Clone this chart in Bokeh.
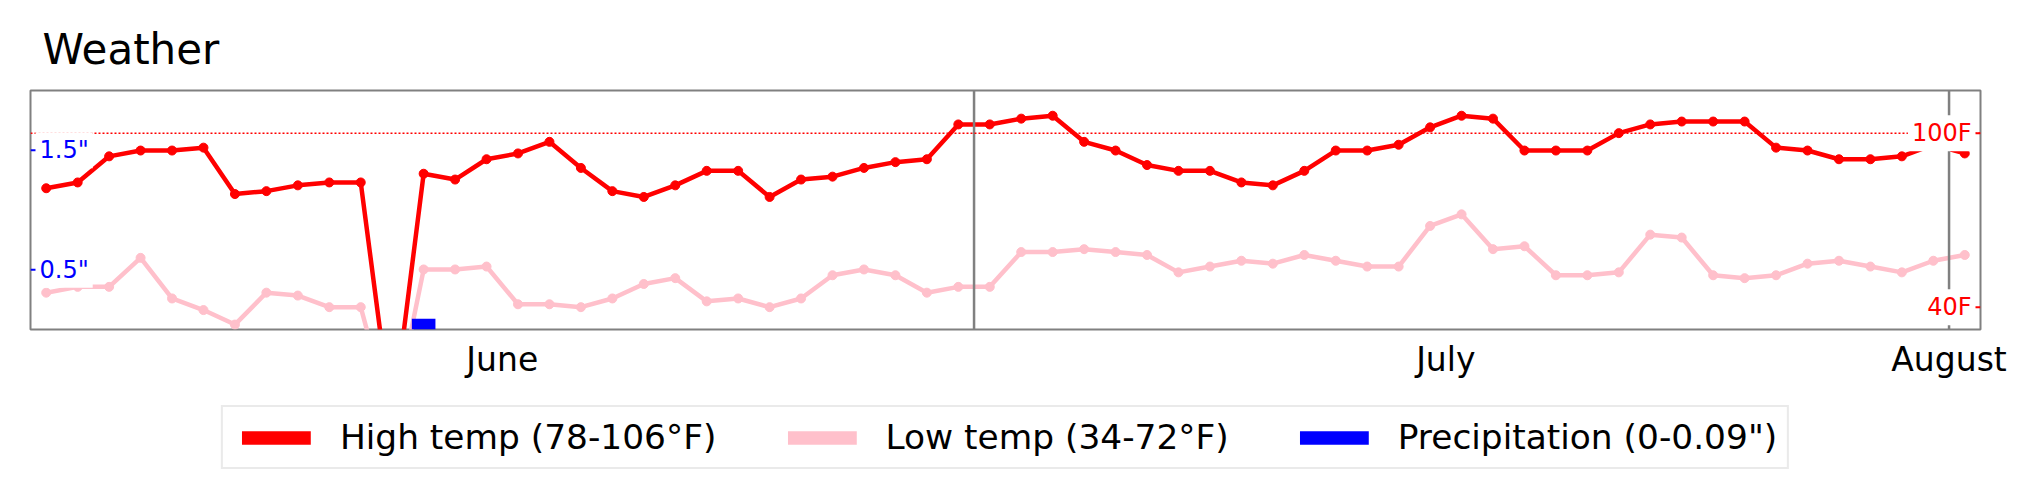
import pandas as pd
from bokeh.plotting import figure
from bokeh.layouts import column
from bokeh.models import Range1d, Span, Label, Legend, LegendItem, FixedTicker
from bokeh.embed import file_html
from bokeh.resources import INLINE

FONT = "DejaVu Sans"

# one reading per day, June 1 .. August 1
days = pd.date_range("2023-06-01 12:00", periods=62, freq="D")

high = [81, 83, 92, 94, 94, 95, 79, 80, 82, 83, 83, 0, 86, 84, 91, 93, 97, 88, 80, 78,
        82, 87, 87, 78, 84, 85, 88, 90, 91, 103, 103, 105, 106, 97, 94, 89, 87, 87, 83, 82,
        87, 94, 94, 96, 102, 106, 105, 94, 94, 94, 100, 103, 104, 104, 104, 95, 94, 91, 91, 92,
        96, 93]
low = [45, 47, 47, 57, 43, 39, 34, 45, 44, 40, 40, 0, 53, 53, 54, 41, 41, 40, 43, 48,
       50, 42, 43, 40, 43, 51, 53, 51, 45, 47, 47, 59, 59, 60, 59, 58, 52, 54, 56, 55,
       58, 56, 54, 54, 68, 72, 60, 61, 51, 51, 52, 65, 64, 51, 50, 51, 55, 56, 54, 52,
       56, 58]
precip = [0, 0, 0, 0, 0, 0, 0, 0, 0, 0, 0, 0, 0.09, 0, 0, 0, 0, 0, 0, 0,
          0, 0, 0, 0, 0, 0, 0, 0, 0, 0, 0, 0, 0, 0, 0, 0, 0, 0, 0, 0,
          0, 0, 0, 0, 0, 0, 0, 0, 0, 0, 0, 0, 0, 0, 0, 0, 0, 0, 0, 0,
          0, 0]

month_ticks = ["2023-06-16", "2023-07-16", "2023-08-01"]
month_labels = ["June", "July", "August"]
month_starts = ["2023-07-01", "2023-08-01"]
temp_marks = [40, 100]
temp_labels = ["40F", "100F"]
rain_marks = [0.5, 1.5]
rain_labels = ['0.5"', '1.5"']
legend_labels = ["High temp (78-106\u00b0F)", "Low temp (34-72\u00b0F)", 'Precipitation (0-0.09")']
legend_colors = ["red", "pink", "blue"]


def ms(s):
    return pd.Timestamp(s).value / 1e6


x_left = ms("2023-06-01")
x_right = ms("2023-08-02")
bar_w = 0.75 * 86400000

p = figure(frame_width=1950, frame_height=239, x_axis_type="datetime",
           x_range=Range1d(x_left, x_right), y_range=Range1d(32.3, 114.7),
           y_axis_location=None, output_backend="svg", toolbar_location=None,
           min_border_left=30, min_border_right=56, min_border_top=90, min_border_bottom=50)
p.extra_y_ranges = {"rain": Range1d(0, 2)}
p.grid.grid_line_color = None
p.outline_line_color = "gray"
p.outline_line_width = 2

p.title.text = "Weather"
p.title.text_font = FONT
p.title.text_font_size = "42px"
p.title.text_font_style = "normal"
p.title.text_color = "black"
p.title.align = "left"
p.title.offset = 12
p.title.standoff = 34

ax = p.xaxis[0]
ax.ticker = FixedTicker(ticks=[ms(t) for t in month_ticks])
ax.major_label_overrides = {ms(t): lab for t, lab in zip(month_ticks, month_labels)}
ax.axis_line_color = None
ax.major_tick_line_color = None
ax.minor_tick_line_color = None
ax.major_label_text_font = FONT
ax.major_label_text_font_size = "33px"
ax.major_label_text_color = "black"
ax.major_label_standoff = 4

p.line(days, low, color="pink", line_width=4.5)
p.scatter(days, low, size=9, color="pink")
p.line(days, high, color="red", line_width=4.5)
p.scatter(days, high, size=9, color="red")
p.vbar(x=days, top=precip, width=bar_w, y_range_name="rain", fill_color="blue", line_color=None)

for m in month_starts:
    p.add_layout(Span(location=ms(m), dimension="height", line_color="gray", line_width=2.5))
p.add_layout(Span(location=100, dimension="width", line_color="red", line_width=1.5,
                  line_dash="2 2"))

p.ray(x=[x_left] * 2, y=rain_marks, length=8, length_units="screen", angle=0,
      color="blue", line_width=2, y_range_name="rain")
p.ray(x=[x_right] * 2, y=temp_marks, length=8, length_units="screen", angle=3.14159265,
      color="red", line_width=2)
for v, t in zip(rain_marks, rain_labels):
    p.add_layout(Label(x=x_left, y=v, y_range_name="rain", x_offset=5, text=t,
                       text_align="left", text_baseline="middle", text_color="blue",
                       text_font=FONT, text_font_size="24px",
                       background_fill_color="white", padding=4))
for v, t in zip(temp_marks, temp_labels):
    p.add_layout(Label(x=x_right, y=v, x_offset=-5, text=t,
                       text_align="right", text_baseline="middle", text_color="red",
                       text_font=FONT, text_font_size="24px",
                       background_fill_color="white", padding=4))

# legend strip below the chart; flat bars on the same series serve as swatches
k = figure(frame_width=2010, frame_height=112, x_range=p.x_range, y_range=Range1d(0, 1),
           x_axis_location=None, y_axis_location=None, output_backend="svg",
           toolbar_location=None, min_border=0, outline_line_color=None)
k.grid.grid_line_color = None
keys = [k.vbar(x=days, bottom=[-1] * 62, top=[-1] * 62, width=bar_w, fill_color=c, line_color=None)
        for c in legend_colors]
items = [LegendItem(label=lab, renderers=[r]) for lab, r in zip(legend_labels, keys)]
legend = Legend(items=items, orientation="horizontal", location="center",
                label_text_font=FONT, label_text_font_size="34.4px", label_text_color="black",
                glyph_width=86, glyph_height=17, label_standoff=21, spacing=62, padding=10,
                border_line_color="#d6d6d6", border_line_width=2,
                background_fill_color="white", background_fill_alpha=1.0)
k.add_layout(legend)

open("out.html", "w").write(file_html(column(p, k, spacing=0), INLINE))
